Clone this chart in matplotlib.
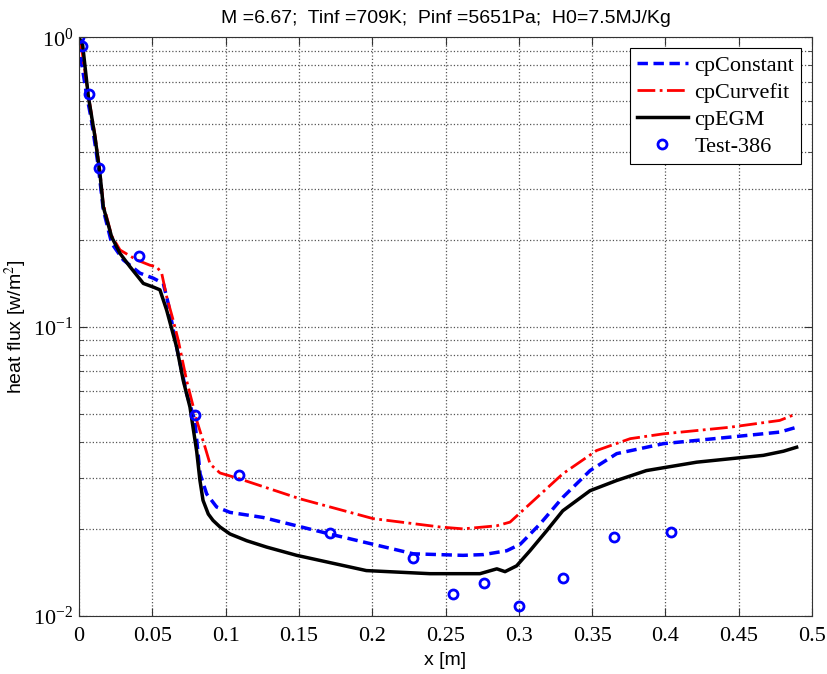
import matplotlib
matplotlib.use('Agg')
import matplotlib.pyplot as plt
from matplotlib.ticker import FixedLocator, LogLocator, FormatStrFormatter, NullFormatter

plt.rcParams['mathtext.fontset'] = 'stix'

title = 'M =6.67;  Tinf =709K;  Pinf =5651Pa;  H0=7.5MJ/Kg'

# cpEGM (black solid)
x_egm = [0, 0.0025, 0.0064, 0.0109, 0.0143, 0.0166, 0.0223, 0.028, 0.0348, 0.0439,
         0.0507, 0.0552, 0.0598, 0.0666, 0.0711, 0.0757, 0.0803, 0.0825, 0.0846, 0.0882,
         0.0914, 0.0962, 0.103, 0.1144, 0.128, 0.1485, 0.196, 0.2394, 0.2735, 0.285,
         0.2906, 0.2985, 0.3076, 0.319, 0.330, 0.3486, 0.3668, 0.387, 0.4213, 0.4668,
         0.4805, 0.4895]
q_egm = [1.0, 0.94, 0.623, 0.453, 0.338, 0.259, 0.204, 0.179, 0.161, 0.141,
         0.137, 0.134, 0.114, 0.085, 0.0652, 0.0527, 0.0370, 0.0294, 0.0251, 0.0225,
         0.0214, 0.0203, 0.0192, 0.0182, 0.0173, 0.0162, 0.01435, 0.0140, 0.0140, 0.01455,
         0.01423, 0.0149, 0.0168, 0.0197, 0.0231, 0.0271, 0.0294, 0.0318, 0.034, 0.0359,
         0.0371, 0.0383]

# cpConstant (blue dashed)
x_const = [0, 0.0018, 0.005, 0.0085, 0.0132, 0.0166, 0.0223, 0.0302, 0.0416, 0.0507,
           0.0575, 0.0609, 0.0666, 0.0734, 0.079, 0.0826, 0.0871, 0.0939, 0.103, 0.1255,
           0.171, 0.228, 0.262, 0.276, 0.2917, 0.301, 0.3145, 0.330, 0.3486, 0.3668,
           0.3986, 0.444, 0.478, 0.4895]
q_const = [0.97, 0.813, 0.64, 0.517, 0.357, 0.253, 0.194, 0.17, 0.153, 0.147,
           0.141, 0.120, 0.085, 0.0587, 0.0474, 0.031, 0.0264, 0.0238, 0.0228, 0.0219,
           0.0192, 0.0164, 0.0162, 0.0163, 0.0168, 0.0177, 0.0208, 0.0257, 0.0318, 0.0364,
           0.0394, 0.0415, 0.0432, 0.0449]

# cpCurvefit (red dash-dot)
x_fit = [0, 0.002, 0.0064, 0.0109, 0.0143, 0.0166, 0.0223, 0.028, 0.0394, 0.0484,
         0.053, 0.0564, 0.0598, 0.0643, 0.0677, 0.0734, 0.0803, 0.086, 0.0894, 0.0962,
         0.1085, 0.1508, 0.2006, 0.2463, 0.262, 0.285, 0.294, 0.3076, 0.330, 0.353,
         0.376, 0.3986, 0.444, 0.478, 0.4895]
q_fit = [0.98, 0.9, 0.63, 0.46, 0.345, 0.265, 0.206, 0.184, 0.17, 0.163,
         0.161, 0.153, 0.127, 0.105, 0.0897, 0.0652, 0.0474, 0.0383, 0.0335, 0.0312,
         0.0299, 0.0254, 0.0217, 0.0203, 0.0200, 0.0205, 0.0211, 0.0244, 0.031, 0.0373,
         0.041, 0.0426, 0.0449, 0.0474, 0.050]

# Test-386 measurements
x_test = [0, 0.002, 0.0066, 0.0136, 0.041, 0.079, 0.109, 0.171, 0.228, 0.255,
          0.276, 0.300, 0.330, 0.365, 0.404]
q_test = [1.0, 0.933, 0.637, 0.352, 0.175, 0.0496, 0.0308, 0.0193, 0.0159, 0.0119,
          0.0130, 0.01086, 0.01354, 0.01876, 0.01946]

x_ticks = [0, 0.05, 0.1, 0.15, 0.2, 0.25, 0.3, 0.35, 0.4, 0.45, 0.5]

fig = plt.figure(figsize=(8.28, 6.74), dpi=100)
ax = fig.add_axes([0.0954, 0.0861, 0.8853, 0.8586])

ax.semilogy(x_const, q_const, '--', color='#0000ff', lw=2.5, dashes=(3, 1.6), label='cpConstant')
ax.semilogy(x_fit, q_fit, '-.', color='#ff0000', lw=2, label='cpCurvefit')
ax.semilogy(x_egm, q_egm, '-', color='k', lw=2.5, label='cpEGM')
ax.semilogy(x_test, q_test, 'o', color='#0000ff', mfc='none', mew=2, ms=6.5, lw=0, label='Test-386')

ax.set_xlim(0, 0.5)
ax.set_ylim(1e-2, 1)
ax.xaxis.set_major_locator(FixedLocator(x_ticks))
ax.xaxis.set_major_formatter(FormatStrFormatter('%g'))
ax.yaxis.set_major_locator(LogLocator(base=10))
ax.yaxis.set_minor_locator(LogLocator(base=10, subs=range(2, 10)))
ax.yaxis.set_minor_formatter(NullFormatter())

ax.grid(True, which='major', ls=':', color='#555555', lw=0.9)
ax.grid(True, which='minor', axis='y', ls=':', color='#555555', lw=0.9)
ax.tick_params(which='both', direction='in', top=True, right=True, colors='#333333')
ax.tick_params(which='major', length=6, labelsize=16, labelcolor='black', pad=8)
ax.tick_params(axis='y', which='major', pad=4)
ax.tick_params(which='minor', length=3)
for lbl in ax.get_xticklabels() + ax.get_yticklabels():
    lbl.set_family('Liberation Serif')
for s in ax.spines.values():
    s.set_color('#333333')

ax.set_title(title, fontsize=14, family='Liberation Sans', pad=10)
ax.set_xlabel('x [m]', fontsize=14, family='Liberation Sans', labelpad=4)
ax.set_ylabel('heat flux [w/m$^2$]', fontsize=14, family='Liberation Sans')
ax.yaxis.set_label_coords(-0.068, 0.5)

leg = ax.legend(loc='upper right', prop={'family': 'Liberation Serif', 'size': 16},
                fancybox=False, edgecolor='black', framealpha=1, handlelength=2.3,
                borderaxespad=0.5, labelspacing=0.3, handletextpad=0.3, borderpad=0.3)
leg.get_frame().set_linewidth(0.8)

fig.savefig('out.png', dpi=100)
